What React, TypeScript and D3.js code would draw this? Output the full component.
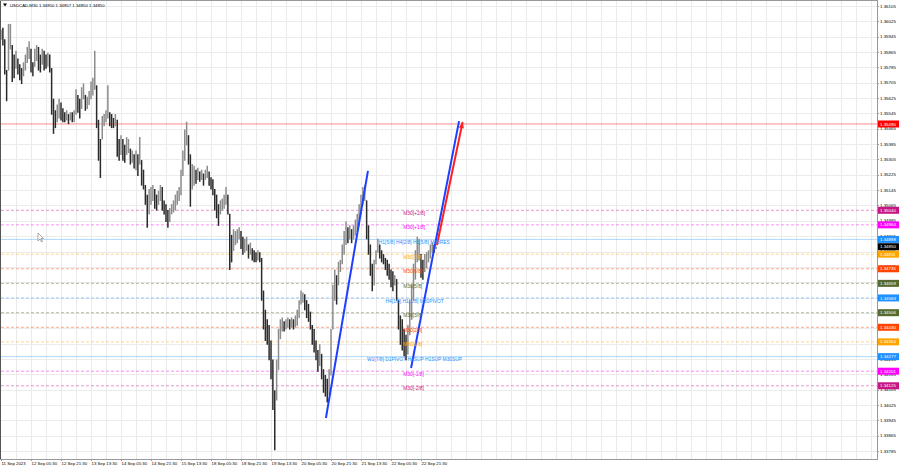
import React from 'react';
import * as d3 from 'd3';

// Bar highs / lows (hourly resolution)
const highs = [
1.3598,1.3599,1.3593,1.3577,1.3601,1.3601,1.3590,1.3585,1.3587,1.3583,
1.3580,1.3578,1.3581,1.3585,1.3589,1.3592,1.3588,1.3581,1.3588,1.3590,
1.3589,1.3585,1.3588,1.3587,1.3585,1.3586,1.3585,1.3578,1.3562,1.3556,
1.3559,1.3562,1.3560,1.3557,1.3555,1.3556,1.3554,1.3555,1.3555,1.3556,
1.3567,1.3564,1.3562,1.3568,1.3570,1.3564,1.3563,1.3566,1.3571,1.3573,
1.3587,1.3569,1.3551,1.3541,1.3553,1.3554,1.3556,1.3569,1.3555,1.3554,
1.3552,1.3554,1.3551,1.3541,1.3543,1.3541,1.3538,1.3542,1.3541,1.3536,
1.3535,1.3533,1.3535,1.3533,1.3542,1.3530,1.3525,1.3517,1.3512,1.3515,
1.3516,1.3517,1.3515,1.3512,1.3514,1.3517,1.3516,1.3509,1.3507,1.3504,
1.3505,1.3507,1.3509,1.3512,1.3514,1.3516,1.3525,1.3535,1.3546,1.3550,
1.3543,1.3533,1.3528,1.3527,1.3525,1.3526,1.3524,1.3525,1.3523,1.3525,
1.3527,1.3524,1.3521,1.3520,1.3515,1.3512,1.3507,1.3509,1.3510,1.3512,
1.3516,1.3512,1.3502,1.3491,1.3494,1.3493,1.3494,1.3495,1.3493,1.3490,
1.3489,1.3490,1.3486,1.3487,1.3484,1.3483,1.3482,1.3483,1.3482,1.3479,
1.3462,1.3452,1.3447,1.3444,1.3436,1.3426,1.3410,1.3426,1.3442,1.3447,
1.3448,1.3446,1.3447,1.3448,1.3447,1.3448,1.3447,1.3449,1.3452,1.3457,
1.3462,1.3461,1.3460,1.3457,1.3455,1.3451,1.3444,1.3442,1.3436,1.3431,
1.3434,1.3429,1.3421,1.3418,1.3416,1.3421,1.3442,1.3465,1.3473,1.3470,
1.3477,1.3478,1.3486,1.3493,1.3498,1.3495,1.3496,1.3494,1.3496,1.3499,
1.3502,1.3507,1.3512,1.3516,1.3517,1.3509,1.3496,1.3486,1.3476,1.3478,
1.3483,1.3489,1.3486,1.3483,1.3481,1.3479,1.3478,1.3476,1.3473,1.3472,
1.3470,1.3468,1.3457,1.3449,1.3447,1.3442,1.3439,1.3444,1.3457,1.3465,
1.3476,1.3483,1.3490,1.3489,1.3481,1.3478,1.3481,1.3482,1.3483,1.3486,
1.3487,1.3486,1.3485
];
const lows = [
1.3593,1.3590,1.3575,1.3561,1.3577,1.3588,1.3571,1.3573,1.3578,1.3575,
1.3572,1.3570,1.3574,1.3577,1.3581,1.3583,1.3576,1.3574,1.3579,1.3582,
1.3577,1.3576,1.3580,1.3577,1.3578,1.3579,1.3576,1.3554,1.3544,1.3547,
1.3550,1.3552,1.3551,1.3550,1.3550,1.3551,1.3549,1.3551,1.3550,1.3550,
1.3554,1.3555,1.3552,1.3557,1.3562,1.3556,1.3557,1.3559,1.3562,1.3564,
1.3567,1.3547,1.3530,1.3521,1.3541,1.3548,1.3550,1.3552,1.3548,1.3547,
1.3547,1.3548,1.3532,1.3530,1.3533,1.3530,1.3529,1.3533,1.3534,1.3528,
1.3529,1.3526,1.3525,1.3522,1.3528,1.3517,1.3515,1.3507,1.3495,1.3502,
1.3507,1.3509,1.3505,1.3504,1.3507,1.3509,1.3504,1.3502,1.3498,1.3495,
1.3498,1.3502,1.3503,1.3504,1.3507,1.3509,1.3512,1.3522,1.3530,1.3538,
1.3528,1.3506,1.3515,1.3517,1.3518,1.3520,1.3519,1.3520,1.3517,1.3520,
1.3521,1.3517,1.3515,1.3512,1.3504,1.3500,1.3496,1.3502,1.3504,1.3505,
1.3507,1.3502,1.3473,1.3477,1.3483,1.3486,1.3487,1.3489,1.3484,1.3481,
1.3482,1.3483,1.3479,1.3481,1.3478,1.3477,1.3477,1.3478,1.3477,1.3457,
1.3442,1.3436,1.3434,1.3426,1.3416,1.3400,1.3379,1.3405,1.3421,1.3437,
1.3441,1.3441,1.3442,1.3443,1.3442,1.3443,1.3442,1.3443,1.3444,1.3448,
1.3455,1.3456,1.3452,1.3448,1.3446,1.3442,1.3434,1.3430,1.3426,1.3420,
1.3423,1.3416,1.3409,1.3407,1.3404,1.3408,1.3418,1.3442,1.3457,1.3455,
1.3465,1.3472,1.3476,1.3481,1.3486,1.3487,1.3489,1.3487,1.3489,1.3491,
1.3493,1.3496,1.3502,1.3507,1.3509,1.3489,1.3481,1.3470,1.3462,1.3465,
1.3476,1.3482,1.3479,1.3477,1.3476,1.3473,1.3470,1.3468,1.3464,1.3462,
1.3465,1.3457,1.3442,1.3434,1.3431,1.3428,1.3426,1.3429,1.3439,1.3447,
1.3457,1.3468,1.3477,1.3478,1.3469,1.3468,1.3472,1.3474,1.3477,1.3479,
1.3482,1.3482,1.3484
];

const priceTicks = [
1.36105,1.36025,1.35945,1.35865,1.35785,1.35705,1.35625,1.35545,1.35465,1.35385,
1.35305,1.35225,1.35145,1.35065,1.34985,1.34905,1.34825,1.34745,1.34665,1.34585,
1.34505,1.34425,1.34345,1.34265,1.34185,1.34105,1.34025,1.33945,1.33865,1.33785
];
const dateLabels = ['11 Sep 2023','12 Sep 05:30','12 Sep 21:30','13 Sep 13:30','14 Sep 05:30','14 Sep 21:30',
'15 Sep 13:30','18 Sep 05:30','18 Sep 21:30','19 Sep 13:30','20 Sep 05:30','20 Sep 21:30','21 Sep 13:30',
'22 Sep 05:30','22 Sep 21:30'];

// Murrey / pivot levels
const levelPrices = [1.35040,1.34964,1.34888,1.34811,1.34735,1.34659,1.34583,1.34506,1.34430,1.34354,1.34277,1.34201,1.34125];
const levelNames = ['M30[+2/8]','M30[+1/8]','H1[5/8] H4[2/8] H1[5/8] M30RES','M30[7/8]','M30[6/8]','M30[5/8]',
'H4[1/8] H1[1/8] M30PIVOT','M30[3/8]','M30[2/8]','M30[1/8]','W1[7/8] D1PIVOT H4SUP H1SUP M30SUP','M30[-1/8]','M30[-2/8]'];
const levelColors = ['#c71585','#ff00ff','#1e90ff','#ffa500','#ff4500','#556b2f','#1e90ff','#556b2f','#ff4500','#ffa500','#1e90ff','#ff00ff','#c71585'];
const levelSolid = [false,false,true,false,false,false,false,false,false,false,true,false,false];
const levelLabelBar = [214.5,214.5,201.5,214.5,214.5,214.5,205,214.5,214.5,214.5,195.2,214.5,214.5];

const redLevel = 1.35490;
const lastPrice = 1.34850;
const header = 'USDCAD,M30  1.34850 1.34857 1.34850 1.34850';

// trend lines: [bar, price]
const blueLeft: [number, number][] = [[173.3, 1.33957], [195.7, 1.35245]];
const blueRight: [number, number][] = [[218.7, 1.34218], [244.3, 1.35505]];
const redArrow: [number, number][] = [[232.5, 1.34859], [246.2, 1.35500]];

const W = 900, H = 468;
const plotR = 877, plotB = 459;
const FONT = "'Liberation Sans', Arial, sans-serif";

export default function App() {
  const x = d3.scaleLinear().domain([0, 232]).range([1, 436]);
  const y = d3.scaleLinear().domain([1.33785, 1.36105]).range([451, 6]);
  const fmt = d3.format('.5f');
  const line = d3.line<[number, number]>().x(d => x(d[0])).y(d => y(d[1]));

  const grids: number[] = [];
  for (let k = 1; x(8 * k) < plotR; k++) grids.push(8 * k);

  const mids = highs.map((h, i) => (h + lows[i]) / 2);

  const boxes = [
    { p: redLevel, c: '#ff0000' },
    ...levelPrices.map((p, i) => ({ p, c: levelColors[i] })),
    { p: lastPrice, c: '#000000' },
  ];

  const ra = redArrow;
  const ang = Math.atan2(y(ra[1][1]) - y(ra[0][1]), x(ra[1][0]) - x(ra[0][0]));
  const tipX = x(ra[1][0]), tipY = y(ra[1][1]);
  const ah = 6, aw = 2.6;
  const arrowPts = [
    [tipX, tipY],
    [tipX - ah * Math.cos(ang) + aw * Math.sin(ang), tipY - ah * Math.sin(ang) - aw * Math.cos(ang)],
    [tipX - ah * Math.cos(ang) - aw * Math.sin(ang), tipY - ah * Math.sin(ang) + aw * Math.cos(ang)],
  ].map(p => p.join(',')).join(' ');

  return (
    <div style={{ position: 'absolute', left: 0, top: 0 }}>
      <style>{'body{margin:0}'}</style>
      <svg width={W} height={H} style={{ display: 'block', background: '#fff' }} fontFamily={FONT}>
        <rect x={0} y={0} width={W} height={H} fill="#fff" />
        {/* grid */}
        {priceTicks.map((p, i) => (
          <line key={'hg' + i} x1={1} x2={plotR} y1={Math.round(y(p)) + 0.5} y2={Math.round(y(p)) + 0.5} stroke="#ebebeb" strokeWidth={1} />
        ))}
        {grids.map((g, i) => (
          <line key={'vg' + i} x1={Math.round(x(g)) + 0.5} x2={Math.round(x(g)) + 0.5} y1={1} y2={plotB} stroke="#ebebeb" strokeWidth={1} />
        ))}
        {/* levels */}
        {levelPrices.map((p, i) => (
          <line key={'lv' + i} x1={1} x2={plotR} y1={y(p)} y2={y(p)} stroke={levelColors[i]}
            strokeOpacity={levelSolid[i] ? 0.35 : 0.45} strokeWidth={1}
            strokeDasharray={levelSolid[i] ? undefined : '3,2'} />
        ))}
        <line x1={1} x2={plotR} y1={y(redLevel)} y2={y(redLevel)} stroke="#ff0000" strokeOpacity={0.45} strokeWidth={1} />
        {/* bars */}
        {highs.map((h, i) => (
          <line key={'b' + i} x1={x(i)} x2={x(i)} y1={y(h) - 0.3} y2={y(lows[i]) + 0.3}
            stroke={i > 0 && mids[i] < mids[i - 1] ? '#2b2b2b' : '#8c8c8c'} strokeWidth={1.5} />
        ))}
        {/* trend lines */}
        <path d={line(blueLeft) || ''} stroke="#1f3fff" strokeWidth={2} fill="none" />
        <path d={line(blueRight) || ''} stroke="#1f3fff" strokeWidth={2} fill="none" />
        <path d={line(redArrow) || ''} stroke="#ff2020" strokeWidth={2} fill="none" />
        <polygon points={arrowPts} fill="#ff2020" />
        {/* level labels */}
        {levelPrices.map((p, i) => (
          <text key={'lt' + i} x={x(levelLabelBar[i])} y={y(p) + 4.6} fontSize={4.9} fill={levelColors[i]}>{levelNames[i]}</text>
        ))}
        {/* frame */}
        <line x1={0.5} x2={0.5} y1={0} y2={plotB} stroke="#555" />
        <line x1={0} x2={plotR} y1={0.5} y2={0.5} stroke="#999" />
        <line x1={plotR + 0.5} x2={plotR + 0.5} y1={0} y2={plotB + 1} stroke="#999" />
        <line x1={0} x2={plotR} y1={plotB + 0.5} y2={plotB + 0.5} stroke="#999" />
        {/* price axis */}
        {priceTicks.map((p, i) => (
          <g key={'pt' + i}>
            <line x1={plotR} x2={plotR + 2} y1={Math.round(y(p)) + 0.5} y2={Math.round(y(p)) + 0.5} stroke="#999" />
            <text x={880} y={y(p) + 1.6} fontSize={4.4} fill="#000">{fmt(p)}</text>
          </g>
        ))}
        {boxes.map((b, i) => (
          <g key={'bx' + i}>
            <rect x={plotR + 1} y={y(b.p) - 3.5} width={21} height={7} fill={b.c} />
            <text x={880} y={y(b.p) + 1.6} fontSize={4.4} fill="#fff">{fmt(b.p)}</text>
          </g>
        ))}
        {/* date axis */}
        {dateLabels.map((d, i) => (
          <g key={'dl' + i}>
            <line x1={Math.round(x(16 * i)) + 0.5} x2={Math.round(x(16 * i)) + 0.5} y1={plotB} y2={plotB + 2} stroke="#999" />
            <text x={x(16 * i) + 0.5} y={465} fontSize={4.3} fill="#000">{d}</text>
          </g>
        ))}
        {/* header */}
        <polygon points="3,3.5 7,3.5 5,6.5" fill="#000" />
        <text x={10} y={6.6} fontSize={4.3} fill="#000">{header}</text>
        {/* mouse cursor */}
        <path d="M38,233 L38,241 L40,239 L41.5,242 L42.5,241.5 L41,238.5 L43.5,238.5 Z" fill="#fff" stroke="#777" strokeWidth={0.6} />
      </svg>
    </div>
  );
}
